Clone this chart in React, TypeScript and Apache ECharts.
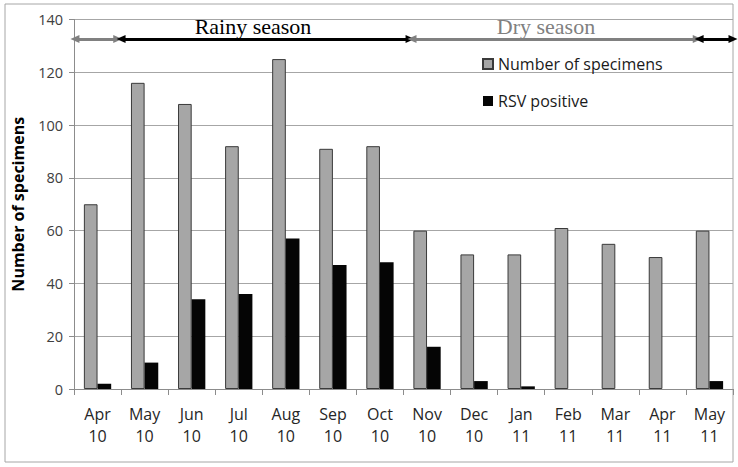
import React, { useEffect, useRef } from "react";
import * as echarts from "echarts";

const categories = [
  "Apr\n10", "May\n10", "Jun\n10", "Jul\n10", "Aug\n10", "Sep\n10", "Oct\n10",
  "Nov\n10", "Dec\n10", "Jan\n11", "Feb\n11", "Mar\n11", "Apr\n11", "May\n11",
];
const specimens = [70, 116, 108, 92, 125, 91, 92, 60, 51, 51, 61, 55, 50, 60];
const rsvPositive = [2, 10, 34, 36, 57, 47, 48, 16, 3, 1, 0, 0, 0, 3];

// season arrows: [start, end] on a 0..14 month-position scale, at value level
const seasonArrowLevel = 132.6;
const seasonArrows = [
  { from: 0.02, to: 0.93, color: "#808080" },
  { from: 1.0, to: 7.14, color: "#000000" },
  { from: 7.18, to: 13.24, color: "#808080" },
  { from: 13.28, to: 14.0, color: "#000000" },
];
const seasonLabels = [
  { text: "Rainy season", x: 253, color: "#000000" },
  { text: "Dry season", x: 546, color: "#808080" },
];

const FONT = "'Open Sans', 'DejaVu Sans', sans-serif";

export default function App() {
  const ref = useRef<HTMLDivElement>(null);

  useEffect(() => {
    if (!ref.current) return;
    const chart = echarts.init(ref.current, null, { renderer: "svg" });

    const option: any = {
      animation: false,
      backgroundColor: "#ffffff",
      grid: { left: 74, right: 5, top: 19.5, bottom: 78, containLabel: false },
      legend: {
        orient: "vertical",
        left: 477,
        top: 51,
        itemWidth: 10,
        itemHeight: 10,
        itemGap: 21,
        icon: "rect",
        textStyle: { fontFamily: FONT, fontSize: 16, color: "#1a1a1a" },
        data: ["Number of specimens", "RSV positive"],
      },
      xAxis: [
        {
          type: "category",
          data: categories,
          axisLine: { show: true, lineStyle: { color: "#8c8c8c", width: 1 } },
          axisTick: { show: true, length: 6, lineStyle: { color: "#8c8c8c" } },
          axisLabel: {
            fontFamily: FONT,
            fontSize: 16,
            lineHeight: 22,
            color: "#262626",
            margin: 14,
            interval: 0,
          },
        },
        {
          type: "value",
          min: 0,
          max: 14,
          show: false,
        },
      ],
      yAxis: {
        type: "value",
        min: 0,
        max: 140,
        interval: 20,
        name: "Number of specimens",
        nameLocation: "middle",
        nameGap: 48,
        nameRotate: 90,
        nameTextStyle: { fontFamily: FONT, fontSize: 16, fontWeight: "bold", color: "#000000" },
        axisLine: { show: true, lineStyle: { color: "#8c8c8c", width: 1 } },
        axisTick: { show: true, length: 5, lineStyle: { color: "#8c8c8c" } },
        axisLabel: { fontFamily: FONT, fontSize: 14.5, color: "#404040", margin: 11 },
        splitLine: { show: true, lineStyle: { color: "#a6a6a6", width: 1 } },
      },
      series: [
        {
          name: "Number of specimens",
          type: "bar",
          data: specimens,
          barGap: "0%",
          barCategoryGap: "42%",
          itemStyle: { color: "#a6a6a6", borderColor: "#3a3a3a", borderWidth: 1 },
        },
        {
          name: "RSV positive",
          type: "bar",
          data: rsvPositive,
          barGap: "0%",
          barCategoryGap: "42%",
          itemStyle: { color: "#050505" },
        },
        {
          name: "seasons",
          type: "line",
          xAxisIndex: 1,
          yAxisIndex: 0,
          data: [],
          silent: true,
          markLine: {
            silent: true,
            animation: false,
            symbol: ["triangle", "triangle"],
            symbolSize: [8, 9],
            label: { show: false },
            data: seasonArrows.map((a) => [
              {
                coord: [a.from, seasonArrowLevel],
                lineStyle: { color: a.color, width: 3, type: "solid" },
                itemStyle: { color: a.color },
              },
              { coord: [a.to, seasonArrowLevel] },
            ]),
          },
        },
      ],
      graphic: [
        {
          type: "rect",
          shape: { x: 5, y: 4, width: 728, height: 458 },
          style: { fill: "none", stroke: "#a6a6a6", lineWidth: 1 },
          silent: true,
          z: -10,
        },
        ...seasonLabels.map((s) => ({
          type: "text",
          x: s.x,
          y: 26,
          style: {
            text: s.text,
            fill: s.color,
            fontFamily: "'Liberation Serif', 'Times New Roman', serif",
            fontSize: 22,
            textAlign: "center",
            textVerticalAlign: "middle",
          },
          silent: true,
        })),
      ],
    };

    chart.setOption(option);
    return () => chart.dispose();
  }, []);

  return (
    <div
      ref={ref}
      style={{ position: "fixed", left: 0, top: 0, width: 738, height: 467, background: "#fff" }}
    />
  );
}
